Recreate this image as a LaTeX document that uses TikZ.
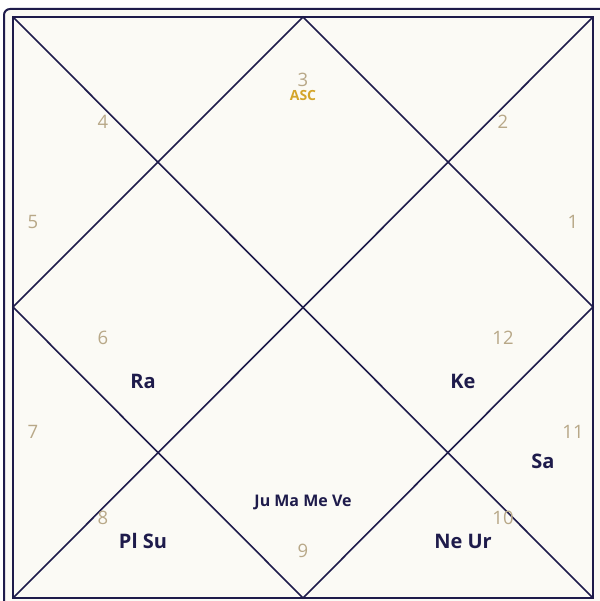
\documentclass[tikz,border=0pt]{standalone}
\usepackage{fontspec}
\setmainfont{Open Sans}
\definecolor{navy}{HTML}{1E1B4B}
\definecolor{paper}{HTML}{FBFAF5}
\definecolor{tan}{HTML}{B8A888}
\definecolor{gold}{HTML}{D4A52A}
\begin{document}
\begin{tikzpicture}[x=1pt,y=-1pt,
  line/.style={draw=navy,line width=1.6pt},
  num/.style={text=tan,font=\fontsize{18.5}{18.5}\selectfont},
  pl/.style={text=navy,font=\fontsize{20}{20}\selectfont\bfseries},
  plsmall/.style={text=navy,font=\fontsize{16}{16}\selectfont\bfseries},
  asc/.style={text=gold,font=\fontsize{14}{14}\selectfont\bfseries}]
\useasboundingbox (0,0) rectangle (599,601);
\fill[white] (0,0) rectangle (599,601);
\draw[navy,line width=2pt,fill=paper,rounded corners=6pt] (4,9) rectangle (610,612);
\draw[navy,line width=2.2pt,fill=paper] (13,17) rectangle (593,598);
\coordinate (tl) at (13,17);
\coordinate (tr) at (593,17);
\coordinate (bl) at (13,598);
\coordinate (br) at (593,598);
\coordinate (mt) at (303,17);
\coordinate (mr) at (593,307);
\coordinate (mb) at (303,598);
\coordinate (ml) at (13,307);
\draw[line] (tl) -- (br);
\draw[line] (tr) -- (bl);
\draw[line] (mt) -- (mr) -- (mb) -- (ml) -- cycle;
\node[num,inner sep=0pt] (h3) at (303,80) {3};
\node[asc,inner sep=0pt] (asc) at (303,96) {ASC};
\node[num] (h4) at (103,122) {4};
\node[num] (h2) at (503,122) {2};
\node[num] (h5) at (33,222) {5};
\node[num] (h1) at (573,222) {1};
\node[num] (h6) at (103,338) {6};
\node[num] (h12) at (503,338) {12};
\node[num] (h7) at (33,432) {7};
\node[num] (h11) at (573,432) {11};
\node[num] (h8) at (103,518) {8};
\node[num] (h10) at (503,518) {10};
\node[num] (h9) at (303,551) {9};
\node[pl] (ra) at (143,381) {Ra};
\node[pl] (ke) at (463,381) {Ke};
\node[pl] (sa) at (543,461) {Sa};
\node[plsmall] (ju) at (303,502) {Ju Ma Me Ve};
\node[pl] (plsu) at (143,541) {Pl Su};
\node[pl] (neur) at (463,541) {Ne Ur};
\end{tikzpicture}
\end{document}
